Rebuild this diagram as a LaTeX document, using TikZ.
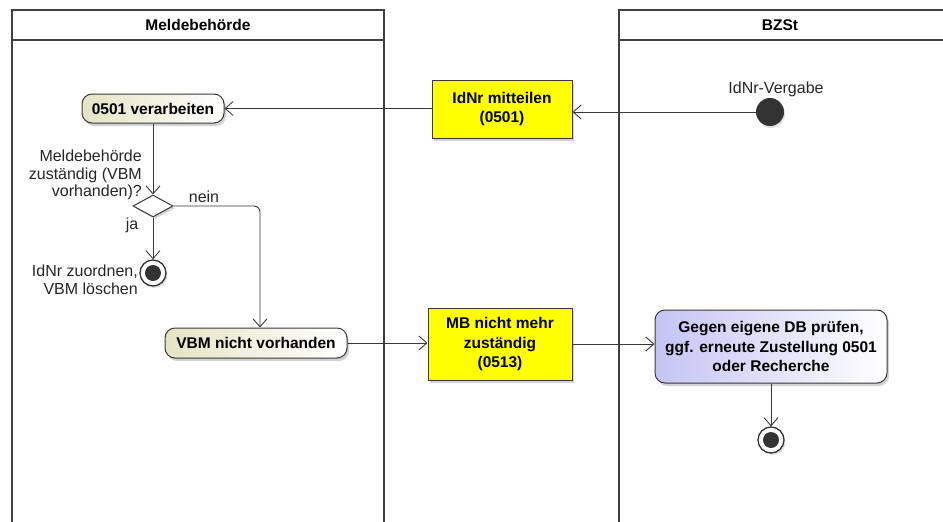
\documentclass[tikz,border=0pt]{standalone}
\usepackage{fontspec}
\setmainfont{Liberation Sans}
\usetikzlibrary{arrows.meta,shapes.geometric,shadows}
\definecolor{lanec}{HTML}{404040}
\definecolor{linec}{HTML}{383838}
\definecolor{dotc}{HTML}{333333}
\definecolor{beige}{HTML}{E4E4C4}
\definecolor{lblue}{HTML}{C4C4F4}
\definecolor{yel}{HTML}{FFFF00}
\tikzset{
  lane/.style={draw=lanec,line width=1.5pt},
  hdr/.style={font=\fontsize{15.5}{18}\selectfont\bfseries},
  actbeige/.style={draw=linec,line width=1pt,rounded corners=10pt,left color=beige,right color=white,
    drop shadow={shadow xshift=2pt,shadow yshift=-3pt,fill=black!35},font=\fontsize{15.5}{19.5}\selectfont\bfseries,inner sep=0pt},
  actblue/.style={draw=linec,line width=1pt,rounded corners=10pt,left color=lblue,right color=white,
    drop shadow={shadow xshift=2pt,shadow yshift=-3pt,fill=black!35},font=\fontsize{15.5}{19.5}\selectfont\bfseries,align=center,inner sep=0pt},
  msgbox/.style={draw=linec,line width=1pt,fill=yel,
    drop shadow={shadow xshift=2pt,shadow yshift=-3pt,fill=black!35},font=\fontsize{15.5}{19.5}\selectfont\bfseries,align=center,inner sep=0pt},
  lbl/.style={font=\fontsize{16}{17.5}\selectfont,text=black!85,inner sep=0pt},
  conn/.style={draw=linec,line width=0.9pt,-{Straight Barb[length=8pt,width=14pt,line width=0.9pt]}},
  startc/.style={circle,fill=dotc,minimum size=28pt,inner sep=0pt,drop shadow={shadow xshift=1pt,shadow yshift=-2pt,fill=black!25}},
  endc/.style={circle,draw=dotc,line width=1.3pt,fill=white,minimum size=26pt,inner sep=0pt,
    path picture={\fill[dotc] (path picture bounding box.center) circle (8pt);},
    drop shadow={shadow xshift=1.5pt,shadow yshift=-2pt,fill=black!25}},
  decis/.style={diamond,draw=linec,line width=1pt,fill=white,minimum width=40pt,minimum height=22pt,inner sep=0pt,
    drop shadow={shadow xshift=2pt,shadow yshift=-2pt,fill=black!35}},
}
\begin{document}
\begin{tikzpicture}[x=1pt,y=-1pt]
\useasboundingbox (0,0) rectangle (943,522);
% lanes
\draw[lane] (12,540) -- (12,10) -- (384,10) -- (384,540);
\draw[lane] (12,40) -- (384,40);
\draw[lane] (619,540) -- (619,10) -- (960,10);
\draw[lane] (619,40) -- (960,40);
\node[hdr] (h1) at (198,25) {Meldebehörde};
\node[hdr] (h2) at (780,25) {BZSt};
% nodes
\node[actbeige,minimum width=142pt,minimum height=29pt] (verarb) at (153,108.5) {0501 verarbeiten};
\node[msgbox,minimum width=140pt,minimum height=58pt] (idnr) at (502,109) {IdNr mitteilen\\(0501)};
\node[startc] (start) at (770,112) {};
\node[lbl,anchor=base] (startlbl) at (776,93) {IdNr-Vergabe};
\node[decis] (dia) at (153,206) {};
\node[lbl,align=right,anchor=east] (q) at (142,175) {Meldebehörde\\zuständig (VBM\\vorhanden)?};
\node[lbl,anchor=base] (nein) at (204,202) {nein};
\node[lbl,anchor=base] (ja) at (132,229) {ja};
\node[endc] (end1) at (153,273) {};
\node[lbl,align=right,anchor=east] (zuord) at (138,280) {IdNr zuordnen,\\VBM löschen};
\node[actbeige,minimum width=182pt,minimum height=30pt] (vbm) at (256,343) {VBM nicht vorhanden};
\node[msgbox,minimum width=144pt,minimum height=72pt] (mb) at (500,344) {MB nicht mehr\\zuständig\\(0513)};
\node[actblue,minimum width=232pt,minimum height=73pt] (gegen) at (771,346.5) {Gegen eigene DB prüfen,\\ggf. erneute Zustellung 0501\\oder Recherche};
\node[endc] (end2) at (771,440) {};
\coordinate (corner) at (260,206);
% connectors
\draw[conn] (start.west) -- (start.west -| idnr.east);
\draw[conn] (idnr.west |- verarb.east) -- (verarb.east);
\draw[conn] (verarb.south) -- (dia.north);
\draw[conn] (dia.south) -- (end1.north);
\draw[conn,rounded corners=6pt] (dia.east) -- (corner) -- (corner |- vbm.north);
\draw[conn] (vbm.east) -- (vbm.east -| mb.west);
\draw[conn] (mb.east) -- (mb.east -| gegen.west);
\draw[conn] (gegen.south) -- (end2.north);
\end{tikzpicture}
\end{document}
